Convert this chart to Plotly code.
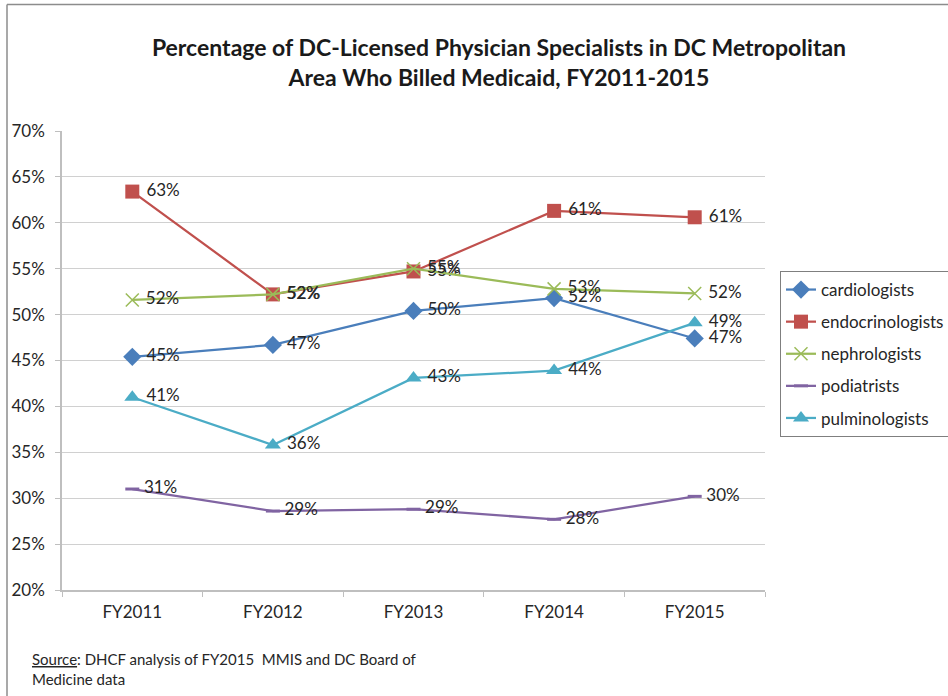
import plotly.graph_objects as go

years = ["FY2011", "FY2012", "FY2013", "FY2014", "FY2015"]
cardiologists = [45.4, 46.7, 50.4, 51.8, 47.4]
endocrinologists = [63.4, 52.2, 54.7, 61.3, 60.6]
nephrologists = [51.6, 52.2, 55.0, 52.8, 52.3]
podiatrists = [31.0, 28.6, 28.8, 27.7, 30.2]
pulminologists = [41.0, 35.8, 43.1, 43.9, 49.1]
y_ticks = [20, 25, 30, 35, 40, 45, 50, 55, 60, 65, 70]
y_tick_labels = [f"{v}%" for v in y_ticks]

FONT = "Lato"
TXT = "#262626"
series = [
    ("cardiologists", cardiologists, "#4A7EBB", "diamond", 14),
    ("endocrinologists", endocrinologists, "#C0504D", "square", 14),
    ("nephrologists", nephrologists, "#9BBB59", "x-thin-open", 13),
    ("podiatrists", podiatrists, "#8064A2", "line-ew-open", 10),
    ("pulminologists", pulminologists, "#4BACC6", "triangle-up", 14),
]

fig = go.Figure()
for name, vals, color, sym, size in series:
    marker = dict(symbol=sym, size=size, color=color)
    if sym in ("x-thin-open", "line-ew-open"):
        marker["line"] = dict(color=color, width=1.5 if sym == "x-thin-open" else 3)
    fig.add_trace(go.Scatter(
        x=years, y=vals, name=name, legendgroup=name,
        mode="lines+markers+text",
        line=dict(color=color, width=2.25),
        marker=marker,
        text=[f" {round(v)}%" for v in vals],
        textposition="middle right",
        textfont=dict(family=FONT, size=17, color=TXT),
        cliponaxis=False,
    ))

def px_x(px):
    return (px - 62) / 703

def px_y(py):
    return (590 - py) / 459

fig.update_layout(
    width=948, height=696,
    margin=dict(l=62, r=183, t=131, b=106, autoexpand=False),
    paper_bgcolor="white", plot_bgcolor="white",
    font=dict(family=FONT, size=17, color=TXT),
    title=dict(
        text="<b>Percentage of DC-Licensed Physician Specialists in DC Metropolitan<br>Area Who Billed Medicaid, FY2011-2015</b>",
        x=499 / 948, xref="container", xanchor="center",
        y=1 - 56 / 696, yref="container", yanchor="middle",
        font=dict(family=FONT, size=23, color="#1a1a1a"),
    ),
    showlegend=True,
    legend=dict(
        x=px_x(780), y=px_y(271), xanchor="left", yanchor="top",
        xref="paper", yref="paper",
        bordercolor="#7f7f7f", borderwidth=1,
        font=dict(family=FONT, size=17, color=TXT),
        traceorder="grouped", tracegroupgap=7,
        itemwidth=30,
    ),
    xaxis=dict(
        type="category", range=[-0.5, 4.5],
        showgrid=False, showline=True, linecolor="#bfbfbf", linewidth=1.5,
        ticks="outside", tickson="boundaries", ticklen=5, tickcolor="#bfbfbf",
        tickfont=dict(family=FONT, size=17, color=TXT),
        ticklabelstandoff=6,
    ),
    yaxis=dict(
        range=[20, 70], tickvals=y_ticks, ticktext=y_tick_labels,
        showgrid=True, gridcolor="#d0d0d0", gridwidth=1.2,
        showline=True, linecolor="#bfbfbf", linewidth=1.5,
        ticks="outside", ticklen=5, tickcolor="#bfbfbf",
        tickfont=dict(family=FONT, size=17, color=TXT),
        ticklabelstandoff=7,
        zeroline=False,
    ),
)

# outer frame
fig.add_shape(type="line", xref="paper", yref="paper",
              x0=px_x(7), x1=px_x(948), y0=px_y(4.5), y1=px_y(4.5),
              line=dict(color="#8c8c8c", width=1.5))
fig.add_shape(type="line", xref="paper", yref="paper",
              x0=px_x(7), x1=px_x(7), y0=px_y(4.5), y1=px_y(700),
              line=dict(color="#8c8c8c", width=1.5))

fig.add_annotation(
    xref="paper", yref="paper", x=px_x(30), y=px_y(648),
    xanchor="left", yanchor="top", align="left", showarrow=False,
    text="<u>Source</u>: DHCF analysis of FY2015  MMIS and DC Board of<br>Medicine data",
    font=dict(family=FONT, size=15, color=TXT),
)

fig.write_html("out.html", config={"displayModeBar": False},
               post_script="document.body.style.margin='0';")
